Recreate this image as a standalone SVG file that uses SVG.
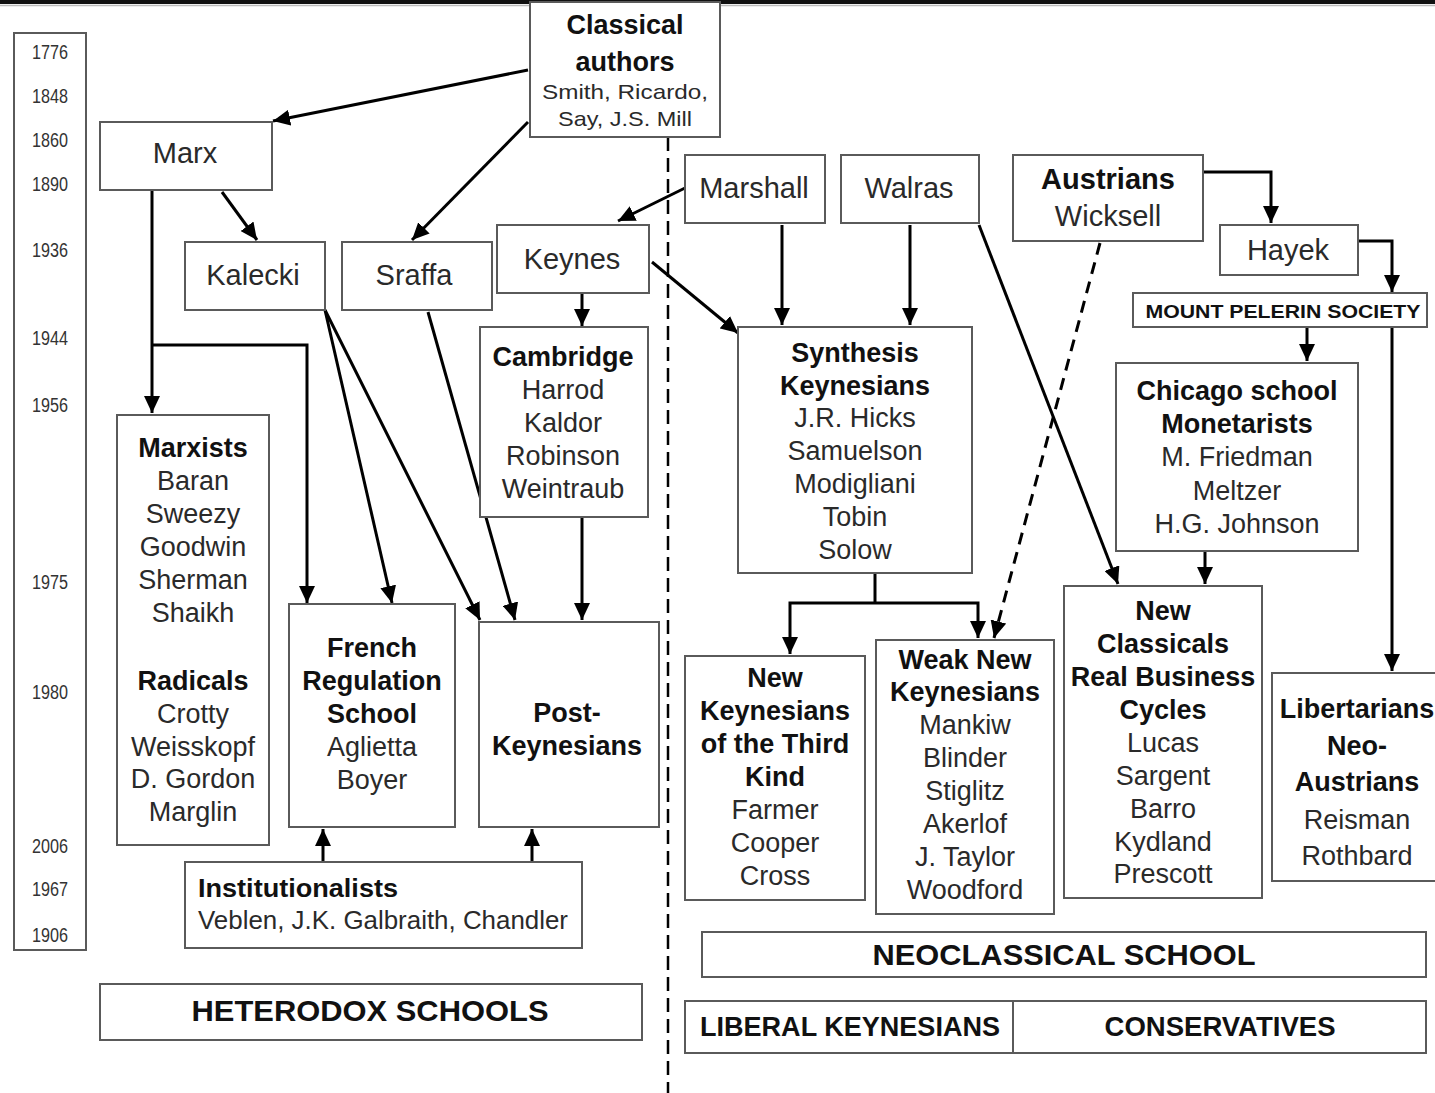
<svg xmlns="http://www.w3.org/2000/svg" width="1435" height="1093" viewBox="0 0 1435 1093">
<style>
text{font-family:"Liberation Sans",Arial,sans-serif;fill:#2a2a2a;text-anchor:middle}
.b{font-weight:bold;fill:#111}
.r{font-size:27px}
.h{font-size:27px;font-weight:bold;fill:#111}
.big{font-size:29px}
.yr{font-size:20px;fill:#333}
.box{fill:#fff;stroke:#5a5a5a;stroke-width:2}
.c{fill:none;stroke:#000;stroke-width:3}
.ca{fill:none;stroke:#000;stroke-width:3;marker-end:url(#ah)}
</style>
<defs>
<marker id="ah" markerUnits="userSpaceOnUse" markerWidth="18" markerHeight="16" refX="17" refY="8" orient="auto">
<path d="M0,0 L17,8 L0,16 Z" fill="#000"/>
</marker>
</defs>
<rect x="0" y="0" width="1435" height="1093" fill="#fff"/>
<rect x="0" y="0" width="1435" height="4" fill="#111"/>
<line x1="0" y1="5.5" x2="1435" y2="5.5" stroke="#bbb" stroke-width="1.5"/>

<g id="timeline">
<rect class="box" x="14" y="33" width="72" height="917"/>
<text class="yr" x="50" y="59" textLength="36" lengthAdjust="spacingAndGlyphs">1776</text>
<text class="yr" x="50" y="103" textLength="36" lengthAdjust="spacingAndGlyphs">1848</text>
<text class="yr" x="50" y="147" textLength="36" lengthAdjust="spacingAndGlyphs">1860</text>
<text class="yr" x="50" y="191" textLength="36" lengthAdjust="spacingAndGlyphs">1890</text>
<text class="yr" x="50" y="257" textLength="36" lengthAdjust="spacingAndGlyphs">1936</text>
<text class="yr" x="50" y="345" textLength="36" lengthAdjust="spacingAndGlyphs">1944</text>
<text class="yr" x="50" y="412" textLength="36" lengthAdjust="spacingAndGlyphs">1956</text>
<text class="yr" x="50" y="589" textLength="36" lengthAdjust="spacingAndGlyphs">1975</text>
<text class="yr" x="50" y="699" textLength="36" lengthAdjust="spacingAndGlyphs">1980</text>
<text class="yr" x="50" y="853" textLength="36" lengthAdjust="spacingAndGlyphs">2006</text>
<text class="yr" x="50" y="896" textLength="36" lengthAdjust="spacingAndGlyphs">1967</text>
<text class="yr" x="50" y="942" textLength="36" lengthAdjust="spacingAndGlyphs">1906</text>
</g>

<g id="divider">
<line x1="668" y1="137" x2="668" y2="1093" stroke="#000" stroke-width="2.5" stroke-dasharray="14 7"/>
</g>

<g id="connectors">
<line class="ca" x1="528" y1="70" x2="273" y2="121"/>
<line class="ca" x1="528" y1="122" x2="412" y2="240"/>
<line class="ca" x1="222" y1="192" x2="257" y2="240"/>
<line class="ca" x1="152" y1="190" x2="152" y2="413"/>
<polyline class="ca" points="152,345 307,345 307,603"/>
<line class="ca" x1="685" y1="188" x2="618" y2="221"/>
<line class="ca" x1="325" y1="310" x2="392" y2="603"/>
<line class="ca" x1="325" y1="310" x2="480" y2="620"/>
<line class="ca" x1="428" y1="312" x2="515" y2="620"/>
<line class="ca" x1="582" y1="293" x2="582" y2="326"/>
<line class="ca" x1="582" y1="517" x2="582" y2="620"/>
<line class="ca" x1="652" y1="262" x2="738" y2="333"/>
<line class="ca" x1="782" y1="225" x2="782" y2="325"/>
<line class="ca" x1="910" y1="225" x2="910" y2="325"/>
<line class="ca" x1="979" y1="225" x2="1118" y2="584"/>
<line class="ca" x1="1100" y1="243" x2="994" y2="638" stroke-dasharray="12 8"/>
<polyline class="ca" points="1203,172 1271,172 1271,223"/>
<polyline class="ca" points="1358,241 1392,241 1392,292"/>
<line class="ca" x1="1307" y1="327" x2="1307" y2="361"/>
<line class="ca" x1="1392" y1="327" x2="1392" y2="671"/>
<line class="ca" x1="1205" y1="551" x2="1205" y2="584"/>
<line class="c" x1="875" y1="573" x2="875" y2="603"/>
<polyline class="ca" points="875,603 790,603 790,654"/>
<polyline class="ca" points="875,603 978,603 978,638"/>
<line class="ca" x1="323" y1="862" x2="323" y2="829"/>
<line class="ca" x1="532" y1="862" x2="532" y2="829"/>
</g>

<g id="classical">
<rect class="box" x="530" y="2" width="190" height="135"/>
<text class="h" x="625" y="34">Classical</text>
<text class="h" x="625" y="71">authors</text>
<text x="625" y="99" font-size="21" textLength="166" lengthAdjust="spacingAndGlyphs">Smith,  Ricardo,</text>
<text x="625" y="126" font-size="21" textLength="134" lengthAdjust="spacingAndGlyphs">Say, J.S. Mill</text>
</g>

<g id="marx"><rect class="box" x="100" y="122" width="172" height="68"/><text class="big" x="185" y="163">Marx</text></g>
<g id="kalecki"><rect class="box" x="185" y="242" width="140" height="68"/><text class="big" x="253" y="285">Kalecki</text></g>
<g id="sraffa"><rect class="box" x="342" y="242" width="150" height="68"/><text class="big" x="414" y="285">Sraffa</text></g>
<g id="keynes"><rect class="box" x="497" y="225" width="152" height="68"/><text class="big" x="572" y="269">Keynes</text></g>

<g id="cambridge">
<rect class="box" x="480" y="327" width="168" height="190"/>
<text class="h" x="563" y="366">Cambridge</text>
<text class="r" x="563" y="399">Harrod</text>
<text class="r" x="563" y="432">Kaldor</text>
<text class="r" x="563" y="465">Robinson</text>
<text class="r" x="563" y="498">Weintraub</text>
</g>

<g id="marxists">
<rect class="box" x="117" y="415" width="152" height="430"/>
<text class="h" x="193" y="457">Marxists</text>
<text class="r" x="193" y="490">Baran</text>
<text class="r" x="193" y="523">Sweezy</text>
<text class="r" x="193" y="556">Goodwin</text>
<text class="r" x="193" y="589">Sherman</text>
<text class="r" x="193" y="622">Shaikh</text>
<text class="h" x="193" y="690">Radicals</text>
<text class="r" x="193" y="723">Crotty</text>
<text class="r" x="193" y="756">Weisskopf</text>
<text class="r" x="193" y="788">D. Gordon</text>
<text class="r" x="193" y="821">Marglin</text>
</g>

<g id="french">
<rect class="box" x="289" y="604" width="166" height="223"/>
<text class="h" x="372" y="657">French</text>
<text class="h" x="372" y="690">Regulation</text>
<text class="h" x="372" y="723">School</text>
<text class="r" x="372" y="756">Aglietta</text>
<text class="r" x="372" y="789">Boyer</text>
</g>

<g id="postkeynesians">
<rect class="box" x="479" y="622" width="180" height="205"/>
<text class="h" x="567" y="722">Post-</text>
<text class="h" x="567" y="755">Keynesians</text>
</g>

<g id="institutionalists">
<rect class="box" x="185" y="862" width="397" height="86"/>
<text class="b" x="198" y="897" font-size="25" style="text-anchor:start" textLength="200" lengthAdjust="spacingAndGlyphs">Institutionalists</text>
<text x="198" y="929" font-size="25" style="text-anchor:start" textLength="370" lengthAdjust="spacingAndGlyphs">Veblen, J.K. Galbraith, Chandler</text>
</g>

<g id="heterodox">
<rect class="box" x="100" y="984" width="542" height="56"/>
<text class="b" x="370" y="1021" font-size="30" textLength="357" lengthAdjust="spacingAndGlyphs">HETERODOX SCHOOLS</text>
</g>

<g id="marshall"><rect class="box" x="685" y="155" width="140" height="68"/><text class="big" x="754" y="198">Marshall</text></g>
<g id="walras"><rect class="box" x="841" y="155" width="138" height="68"/><text class="big" x="909" y="198">Walras</text></g>
<g id="austrians">
<rect class="box" x="1013" y="155" width="190" height="86"/>
<text class="b" x="1108" y="189" font-size="29">Austrians</text>
<text class="big" x="1108" y="226">Wicksell</text>
</g>
<g id="hayek"><rect class="box" x="1220" y="225" width="138" height="50"/><text class="big" x="1288" y="260">Hayek</text></g>
<g id="pelerin">
<rect class="box" x="1133" y="293" width="294" height="34"/>
<text class="b" x="1283" y="318" font-size="18" textLength="275" lengthAdjust="spacingAndGlyphs">MOUNT PELERIN SOCIETY</text>
</g>

<g id="synthesis">
<rect class="box" x="738" y="327" width="234" height="246"/>
<text class="h" x="855" y="362">Synthesis</text>
<text class="h" x="855" y="395">Keynesians</text>
<text class="r" x="855" y="427">J.R. Hicks</text>
<text class="r" x="855" y="460">Samuelson</text>
<text class="r" x="855" y="493">Modigliani</text>
<text class="r" x="855" y="526">Tobin</text>
<text class="r" x="855" y="559">Solow</text>
</g>

<g id="chicago">
<rect class="box" x="1116" y="363" width="242" height="188"/>
<text class="h" x="1237" y="400">Chicago school</text>
<text class="h" x="1237" y="433">Monetarists</text>
<text class="r" x="1237" y="466">M. Friedman</text>
<text class="r" x="1237" y="500">Meltzer</text>
<text class="r" x="1237" y="533">H.G. Johnson</text>
</g>

<g id="newkeynesians3">
<rect class="box" x="685" y="656" width="180" height="244"/>
<text class="h" x="775" y="687">New</text>
<text class="h" x="775" y="720">Keynesians</text>
<text class="h" x="775" y="753">of the Third</text>
<text class="h" x="775" y="786">Kind</text>
<text class="r" x="775" y="819">Farmer</text>
<text class="r" x="775" y="852">Cooper</text>
<text class="r" x="775" y="885">Cross</text>
</g>

<g id="weaknewkeynesians">
<rect class="box" x="876" y="640" width="178" height="274"/>
<text class="h" x="965" y="669">Weak New</text>
<text class="h" x="965" y="701">Keynesians</text>
<text class="r" x="965" y="734">Mankiw</text>
<text class="r" x="965" y="767">Blinder</text>
<text class="r" x="965" y="800">Stiglitz</text>
<text class="r" x="965" y="833">Akerlof</text>
<text class="r" x="965" y="866">J. Taylor</text>
<text class="r" x="965" y="899">Woodford</text>
</g>

<g id="newclassicals">
<rect class="box" x="1064" y="586" width="198" height="312"/>
<text class="h" x="1163" y="620">New</text>
<text class="h" x="1163" y="653">Classicals</text>
<text class="h" x="1163" y="686">Real Business</text>
<text class="h" x="1163" y="719">Cycles</text>
<text class="r" x="1163" y="752">Lucas</text>
<text class="r" x="1163" y="785">Sargent</text>
<text class="r" x="1163" y="818">Barro</text>
<text class="r" x="1163" y="851">Kydland</text>
<text class="r" x="1163" y="883">Prescott</text>
</g>

<g id="libertarians">
<rect class="box" x="1272" y="673" width="175" height="208"/>
<text class="h" x="1357" y="718">Libertarians</text>
<text class="h" x="1357" y="755">Neo-</text>
<text class="h" x="1357" y="791">Austrians</text>
<text class="r" x="1357" y="829">Reisman</text>
<text class="r" x="1357" y="865">Rothbard</text>
</g>

<g id="neoclassical">
<rect class="box" x="702" y="932" width="724" height="45"/>
<text class="b" x="1064" y="965" font-size="30" textLength="383" lengthAdjust="spacingAndGlyphs">NEOCLASSICAL SCHOOL</text>
</g>

<g id="liberal-conservatives">
<rect class="box" x="685" y="1001" width="741" height="52"/>
<line x1="1013" y1="1001" x2="1013" y2="1053" stroke="#5a5a5a" stroke-width="2"/>
<text class="b" x="850" y="1036" font-size="27" textLength="300" lengthAdjust="spacingAndGlyphs">LIBERAL KEYNESIANS</text>
<text class="b" x="1220" y="1036" font-size="27" textLength="231" lengthAdjust="spacingAndGlyphs">CONSERVATIVES</text>
</g>
</svg>
